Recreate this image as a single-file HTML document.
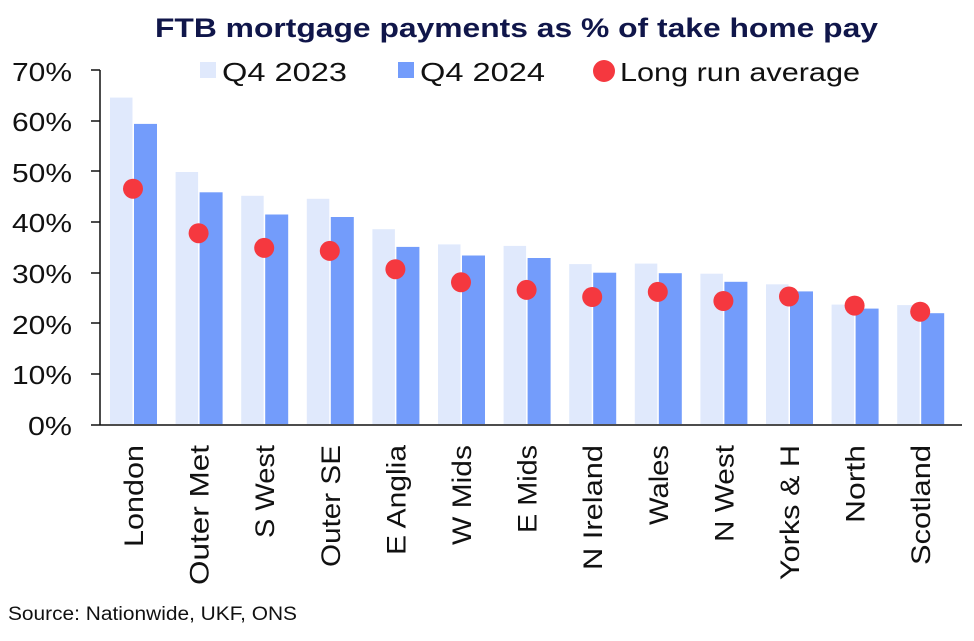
<!DOCTYPE html><html><head><style>body{margin:0;background:#fff}</style></head><body>
<svg width="974" height="636" xmlns="http://www.w3.org/2000/svg" font-family="Liberation Sans, sans-serif">
<text x="155" y="37" font-size="27" font-weight="bold" fill="#10164a" textLength="723" lengthAdjust="spacingAndGlyphs">FTB mortgage payments as % of take home pay</text>
<g font-size="26" fill="#111">
<rect x="200" y="62" width="16" height="16" fill="#e0e9fc"/><text x="222" y="81" textLength="125" lengthAdjust="spacingAndGlyphs">Q4 2023</text>
<rect x="398" y="62" width="16" height="16" fill="#739cfb"/><text x="420" y="81" textLength="125" lengthAdjust="spacingAndGlyphs">Q4 2024</text>
<circle cx="604" cy="71" r="11" fill="#f5383f"/><text x="620" y="81" textLength="240" lengthAdjust="spacingAndGlyphs">Long run average</text>
</g>
<g font-size="26" fill="#111">
<text x="12" y="81" textLength="60" lengthAdjust="spacingAndGlyphs">70%</text>
<text x="12" y="131" textLength="60" lengthAdjust="spacingAndGlyphs">60%</text>
<text x="12" y="182" textLength="60" lengthAdjust="spacingAndGlyphs">50%</text>
<text x="12" y="232" textLength="60" lengthAdjust="spacingAndGlyphs">40%</text>
<text x="12" y="283" textLength="60" lengthAdjust="spacingAndGlyphs">30%</text>
<text x="12" y="334" textLength="60" lengthAdjust="spacingAndGlyphs">20%</text>
<text x="12" y="384" textLength="60" lengthAdjust="spacingAndGlyphs">10%</text>
<text x="28" y="435" textLength="44" lengthAdjust="spacingAndGlyphs">0%</text>
</g>
<g fill="#e0e9fc">
<rect x="110" y="97.6" width="22.5" height="326.4"/>
<rect x="175.6" y="172" width="22.5" height="252"/>
<rect x="241.2" y="195.8" width="22.5" height="228.2"/>
<rect x="306.8" y="198.8" width="22.5" height="225.2"/>
<rect x="372.4" y="229.2" width="22.5" height="194.8"/>
<rect x="438" y="244.4" width="22.5" height="179.6"/>
<rect x="503.6" y="245.9" width="22.5" height="178.1"/>
<rect x="569.2" y="264.1" width="22.5" height="159.9"/>
<rect x="634.8" y="263.6" width="22.5" height="160.4"/>
<rect x="700.4" y="273.7" width="22.5" height="150.3"/>
<rect x="766" y="284.3" width="22.5" height="139.7"/>
<rect x="831.6" y="304.6" width="22.5" height="119.4"/>
<rect x="897.2" y="305.1" width="22.5" height="118.9"/>
</g>
<g fill="#739cfb">
<rect x="134" y="123.9" width="23" height="300.1"/>
<rect x="199.6" y="192.3" width="23" height="231.7"/>
<rect x="265.2" y="214.5" width="23" height="209.5"/>
<rect x="330.8" y="217" width="23" height="207"/>
<rect x="396.4" y="246.9" width="23" height="177.1"/>
<rect x="462" y="255.5" width="23" height="168.5"/>
<rect x="527.6" y="258" width="23" height="166"/>
<rect x="593.2" y="272.7" width="23" height="151.3"/>
<rect x="658.8" y="273.2" width="23" height="150.8"/>
<rect x="724.4" y="281.8" width="23" height="142.2"/>
<rect x="790" y="291.4" width="23" height="132.6"/>
<rect x="855.6" y="308.6" width="23" height="115.4"/>
<rect x="921.2" y="313.2" width="23" height="110.8"/>
</g>
<g fill="#f5383f">
<circle cx="133" cy="188.7" r="10"/>
<circle cx="198.6" cy="233.2" r="10"/>
<circle cx="264.2" cy="247.9" r="10"/>
<circle cx="329.8" cy="250.9" r="10"/>
<circle cx="395.4" cy="269.2" r="10"/>
<circle cx="461" cy="282.3" r="10"/>
<circle cx="526.6" cy="289.9" r="10"/>
<circle cx="592.2" cy="297" r="10"/>
<circle cx="657.8" cy="291.9" r="10"/>
<circle cx="723.4" cy="301" r="10"/>
<circle cx="789" cy="296.5" r="10"/>
<circle cx="854.6" cy="305.6" r="10"/>
<circle cx="920.2" cy="311.7" r="10"/>
</g>
<g stroke="#111" stroke-width="1.5">
<line x1="100" y1="70" x2="100" y2="425"/><line x1="100" y1="425" x2="962" y2="425"/>
<line x1="91" y1="70" x2="100" y2="70"/><line x1="91" y1="121" x2="100" y2="121"/><line x1="91" y1="171" x2="100" y2="171"/><line x1="91" y1="222" x2="100" y2="222"/><line x1="91" y1="273" x2="100" y2="273"/><line x1="91" y1="323" x2="100" y2="323"/><line x1="91" y1="374" x2="100" y2="374"/><line x1="91" y1="425" x2="100" y2="425"/>
</g>
<g font-size="27" fill="#111" text-anchor="end" lengthAdjust="spacingAndGlyphs">
<text transform="translate(143,445) rotate(-90)" textLength="102" lengthAdjust="spacingAndGlyphs">London</text>
<text transform="translate(208.6,445) rotate(-90)" textLength="140" lengthAdjust="spacingAndGlyphs">Outer Met</text>
<text transform="translate(274.2,445) rotate(-90)" textLength="93" lengthAdjust="spacingAndGlyphs">S West</text>
<text transform="translate(339.8,445) rotate(-90)" textLength="122" lengthAdjust="spacingAndGlyphs">Outer SE</text>
<text transform="translate(405.4,445) rotate(-90)" textLength="110" lengthAdjust="spacingAndGlyphs">E Anglia</text>
<text transform="translate(471,445) rotate(-90)" textLength="100" lengthAdjust="spacingAndGlyphs">W Mids</text>
<text transform="translate(536.6,445) rotate(-90)" textLength="88" lengthAdjust="spacingAndGlyphs">E Mids</text>
<text transform="translate(602.2,445) rotate(-90)" textLength="125" lengthAdjust="spacingAndGlyphs">N Ireland</text>
<text transform="translate(667.8,445) rotate(-90)" textLength="80" lengthAdjust="spacingAndGlyphs">Wales</text>
<text transform="translate(733.4,445) rotate(-90)" textLength="97" lengthAdjust="spacingAndGlyphs">N West</text>
<text transform="translate(799,445) rotate(-90)" textLength="135" lengthAdjust="spacingAndGlyphs">Yorks &amp; H</text>
<text transform="translate(864.6,445) rotate(-90)" textLength="78" lengthAdjust="spacingAndGlyphs">North</text>
<text transform="translate(930.2,445) rotate(-90)" textLength="120" lengthAdjust="spacingAndGlyphs">Scotland</text>
</g>
<text x="8" y="620" font-size="19" fill="#111" textLength="289" lengthAdjust="spacingAndGlyphs">Source: Nationwide, UKF, ONS</text>
</svg></body></html>
